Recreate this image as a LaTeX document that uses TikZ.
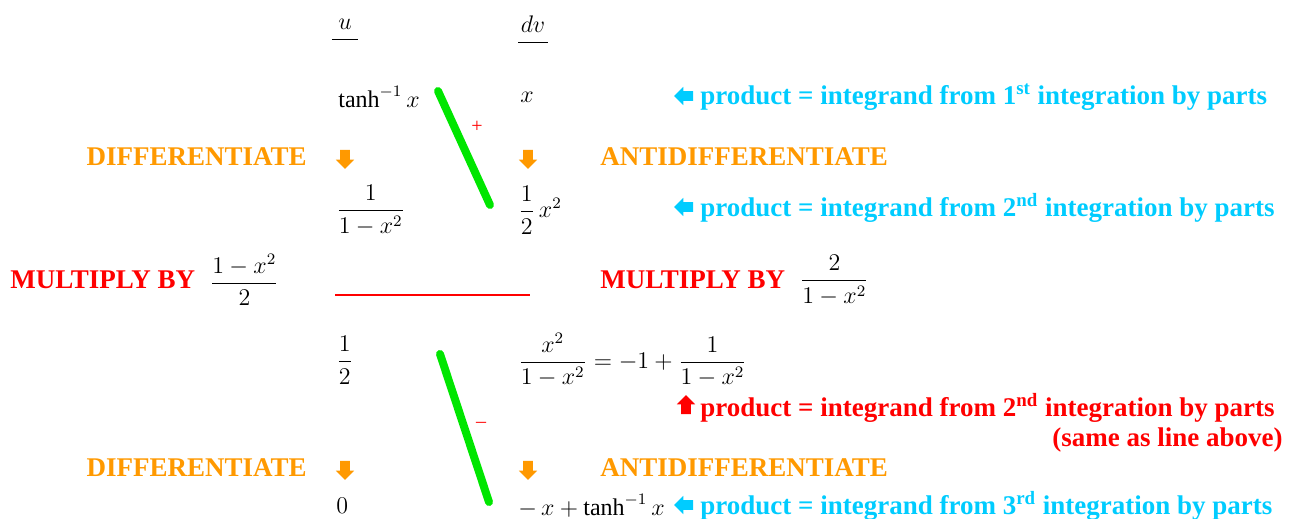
\documentclass[tikz,border=0pt]{standalone}
\usepackage{amsmath}
\usepackage{fontspec}
\setmainfont{Liberation Serif}
\usetikzlibrary{shapes.arrows, positioning}

\definecolor{ibpblue}{RGB}{0,204,255}
\definecolor{ibporange}{RGB}{255,153,0}
\definecolor{ibpred}{RGB}{255,0,0}
\definecolor{ibpgreen}{RGB}{0,230,0}

\begin{document}
\begin{tikzpicture}[
    x=0.5pt, y=-0.5pt,
    every node/.style={inner sep=0pt, font=\fontsize{12}{14}\selectfont},
    entry/.style={anchor=west},
    oplabel/.style={font=\fontsize{13.5}{15}\selectfont\bfseries},
    notelabel/.style={anchor=west, font=\fontsize{13.5}{15}\selectfont\bfseries},
    blockarrow/.style={single arrow, draw=none, inner sep=2.2pt,
        minimum height=9.5pt, single arrow head extend=2.2pt},
    downarrow/.style={blockarrow, fill=ibporange, shape border rotate=270},
    leftarrow/.style={blockarrow, fill=ibpblue, shape border rotate=180},
    uparrow/.style={blockarrow, fill=ibpred, shape border rotate=90},
    diag/.style={ibpgreen, line width=4pt, line cap=round},
    sign/.style={text=ibpred, font=\fontsize{10}{12}\selectfont},
]
\useasboundingbox (0,0) rectangle (1298,519);

% ---- headers ----
\node (uhead)  at (345,24) {$u$};
\node (dvhead) at (533,24) {$dv$};
\draw ([xshift=-3pt,yshift=-5pt]uhead.south west)  -- ([xshift=3pt,yshift=-5pt]uhead.south east);
\draw ([xshift=-1pt,yshift=-5pt]dvhead.south west) -- ([xshift=1pt,yshift=-5pt]dvhead.south east);

% ---- first block ----
\node (atanh) [entry] at (338,97) {$\tanh^{-1}x$};
\node (xdv)   [entry] at (520,97) {$x$};
\node (diffA) [oplabel, text=ibporange, anchor=east] at (307,157) {DIFFERENTIATE};
\node (darrA) [downarrow] at (345,157) {};
\node (aarrA) [downarrow] at (528,157) {};
\node (antiA) [oplabel, text=ibporange, anchor=west] at (600,157) {ANTIDIFFERENTIATE};
\node (recip) [entry] at (336,210) {$\dfrac{1}{1-x^2}$};
\node (halfx) [entry] at (518,210) {$\dfrac{1}{2}\,x^2$};

\coordinate (d1top) at (438,91);
\coordinate (d1bot) at (490,205);
\draw[diag] (d1top) -- (d1bot);
\node (plus) [sign] at (477,127) {+};

% ---- notes, first block ----
\node (larrA) [leftarrow] at (686,96) {};
\node (noteA) [notelabel, text=ibpblue] at (700,97)
    {product = integrand from 1\textsuperscript{st} integration by parts};
\node (larrB) [leftarrow] at (686,207) {};
\node (noteB) [notelabel, text=ibpblue] at (700,208)
    {product = integrand from 2\textsuperscript{nd} integration by parts};

% ---- rescaling ----
\node (mulL) [oplabel, text=ibpred, anchor=west] at (10,280) {MULTIPLY BY};
\node (fracL) [right=7pt of mulL] {$\dfrac{1-x^2}{2}$};
\node (mulR) [oplabel, text=ibpred, anchor=west] at (600,280) {MULTIPLY BY};
\node (fracR) [right=7pt of mulR] {$\dfrac{2}{1-x^2}$};
\coordinate (cutL) at (335,295);
\coordinate (cutR) at (530,295);
\draw[ibpred, line width=1pt] (cutL) -- (cutR);

% ---- second block ----
\node (half)  [entry] at (336,360) {$\dfrac{1}{2}$};
\node (xfrac) [entry] at (518,360) {$\dfrac{x^2}{1-x^2}=-1+\dfrac{1}{1-x^2}$};

\node (uarrC) [uparrow] at (686,407) {};
\node (noteC) [notelabel, text=ibpred] at (700,408)
    {product = integrand from 2\textsuperscript{nd} integration by parts};
\node (noteCb) [oplabel, text=ibpred, anchor=east] at (1283,440) {(same as line above)};

\node (diffB) [oplabel, text=ibporange, anchor=east] at (307,468) {DIFFERENTIATE};
\node (darrB) [downarrow] at (345,468) {};
\node (aarrB) [downarrow] at (528,468) {};
\node (antiB) [oplabel, text=ibporange, anchor=west] at (600,468) {ANTIDIFFERENTIATE};

\node (zero)  [entry] at (336,506) {$0$};
\node (final) [entry] at (518,506) {$-\,x+\tanh^{-1}x$};
\node (larrD) [leftarrow] at (686,505) {};
\node (noteD) [notelabel, text=ibpblue] at (700,506)
    {product = integrand from 3\textsuperscript{rd} integration by parts};

\coordinate (d2top) at (440,354);
\coordinate (d2bot) at (489,502);
\draw[diag] (d2top) -- (d2bot);
\node (minus) [sign] at (481,425) {--};

\end{tikzpicture}
\end{document}
